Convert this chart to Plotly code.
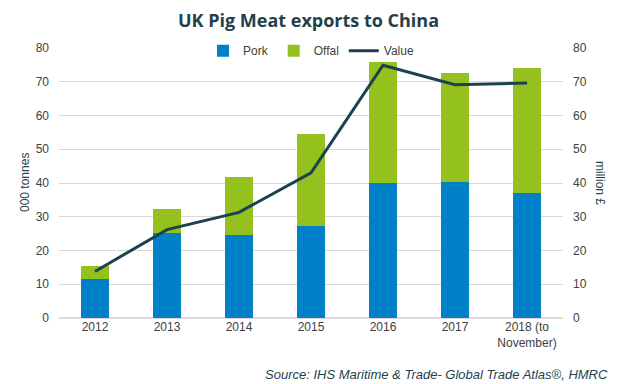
import plotly.graph_objects as go

years = ["2012", "2013", "2014", "2015", "2016", "2017", "2018 (to<br>November)"]
pork = [11.6, 25.1, 24.7, 27.4, 40.1, 40.4, 37.1]
total = [15.5, 32.4, 41.9, 54.6, 75.9, 72.7, 74.2]
offal = [round(t - p, 1) for t, p in zip(total, pork)]
value = [13.8, 26.2, 31.3, 43.0, 74.9, 69.1, 69.6]
yticks = [0, 10, 20, 30, 40, 50, 60, 70, 80]

fig = go.Figure()
fig.add_trace(go.Bar(x=years, y=pork, name="Pork", marker_color="#0080C8", marker_line_width=0))
fig.add_trace(go.Bar(x=years, y=offal, name="Offal", marker_color="#95C11F", marker_line_width=0))
fig.add_trace(go.Scatter(x=years, y=value, name="Value", mode="lines",
                         line=dict(color="#1E4150", width=3), yaxis="y2"))

tickfont = dict(family="Liberation Sans, Arial", size=12, color="#404040")
fig.update_layout(
    width=617, height=384,
    margin=dict(l=59, r=54, t=48, b=66, autoexpand=False),
    barmode="stack", bargap=0.6,
    plot_bgcolor="white", paper_bgcolor="white",
    title=dict(text="<b>UK Pig Meat exports to China</b>", x=0.5, xanchor="center",
               y=0.945, yanchor="middle",
               font=dict(family="Open Sans", size=18, color="#243F4C")),
    showlegend=True,
    legend=dict(orientation="h", x=0.5, xanchor="center", y=0.99, yanchor="middle",
                traceorder="normal",
                font=dict(family="Liberation Sans, Arial", size=12, color="#404040"),
                bgcolor="rgba(0,0,0,0)", itemwidth=30, tracegroupgap=0),
    xaxis=dict(tickfont=tickfont, showgrid=False, showline=False, ticks="",
               zeroline=False, automargin=False),
    yaxis=dict(range=[0, 80], tickvals=yticks, tickfont=tickfont, showgrid=True,
               gridcolor="#D9D9D9", gridwidth=1, zeroline=True, zerolinecolor="#D9D9D9",
               showline=False, ticks="", ticklabelstandoff=9, automargin=False),
    yaxis2=dict(range=[0, 80], tickvals=yticks, tickfont=tickfont, overlaying="y",
                side="right", showgrid=False, zeroline=False, showline=False, ticks="",
                ticklabelstandoff=9, automargin=False),
    annotations=[
        dict(text="000 tonnes", xref="paper", yref="paper", x=0, y=0.5, xshift=-34,
             xanchor="center", yanchor="middle", textangle=-90, showarrow=False,
             font=dict(family="Liberation Sans, Arial", size=12, color="#243F4C")),
        dict(text="million £", xref="paper", yref="paper", x=1, y=0.5, xshift=37,
             xanchor="center", yanchor="middle", textangle=90, showarrow=False,
             font=dict(family="Liberation Sans, Arial", size=12, color="#243F4C")),
        dict(text="<i>Source: IHS Maritime &amp; Trade- Global Trade Atlas®, HMRC</i>",
             xref="paper", yref="paper", x=1, y=0, xshift=47, yshift=-56,
             xanchor="right", yanchor="middle", showarrow=False,
             font=dict(family="Liberation Sans, Arial", size=13, color="#243F4C")),
    ],
)

fig.write_html("out.html", config={"displayModeBar": False},
               post_script="document.body.style.margin='0';")
